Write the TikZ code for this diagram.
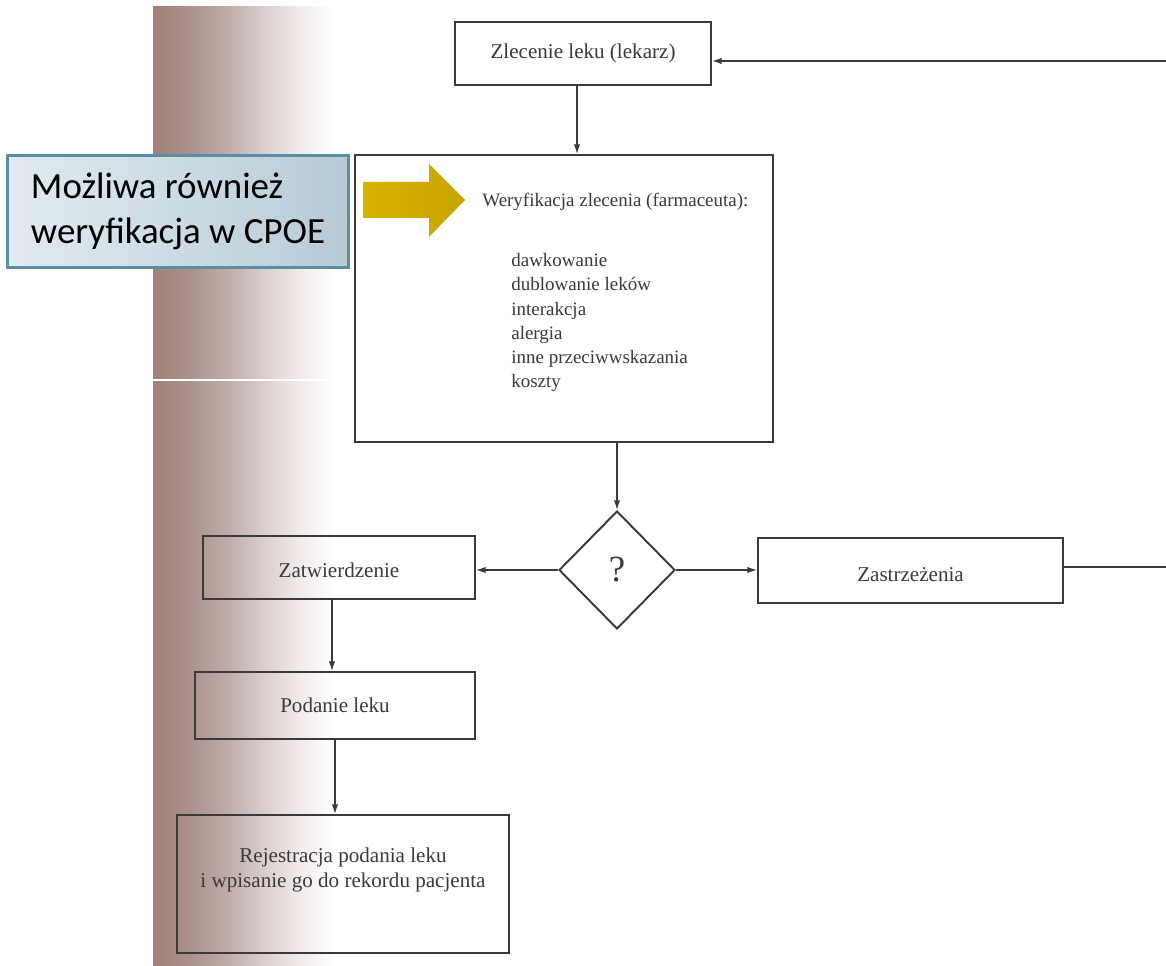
\documentclass[tikz,border=0pt]{standalone}
\usepackage{fontspec}
\setmainfont{Liberation Serif}
\newfontfamily\calloutfont{Carlito}
\usetikzlibrary{arrows.meta,shapes.geometric,calc}

\definecolor{ink}{HTML}{3A3A3A}
\definecolor{mA}{HTML}{9E8179}
\definecolor{mB}{HTML}{AA918B}
\definecolor{mC}{HTML}{BEABA7}
\definecolor{mD}{HTML}{D8CDCB}
\definecolor{mE}{HTML}{F1EAEA}
\definecolor{calloutL}{HTML}{E1EBF0}
\definecolor{calloutR}{HTML}{B7CBD5}
\definecolor{calloutEdge}{HTML}{5B8EA2}
\definecolor{goldL}{HTML}{D6B300}
\definecolor{goldM}{HTML}{EAC700}
\definecolor{goldR}{HTML}{C8A400}

% darkened binding margin of the scanned page
\pgfdeclarehorizontalshading{pagemargin}{100bp}{color(0bp)=(mA); color(25bp)=(mA); color(35bp)=(mB); color(45bp)=(mC); color(55bp)=(mD); color(65bp)=(mE); color(75bp)=(white); color(100bp)=(white)}

\begin{document}
\begin{tikzpicture}[x=0.02cm, y=-0.02cm,
  box/.style={draw=ink, line width=1.1pt, rectangle, inner sep=0pt},
  boxtext/.style={text=ink, font=\fontsize{12}{14}\selectfont},
  listtext/.style={text=ink, font=\fontsize{10.8}{13.8}\selectfont},
  conn/.style={draw=ink, line width=0.8pt, -{Latex[length=5.5pt,width=3.6pt]}},
  plainline/.style={draw=ink, line width=0.8pt},
  decision/.style={draw=ink, line width=1.1pt, diamond, inner sep=0pt},
  note/.style={draw=calloutEdge, line width=1.3pt, left color=calloutL, right color=calloutR,
    inner sep=0pt, align=left, font=\calloutfont\fontsize{21}{26}\selectfont, text=black}
]
\useasboundingbox (0,0) rectangle (1166,966);
\fill[white] (0,0) rectangle (1166,966);

% page margin shading and the scan seam
\shade[shading=pagemargin] (153,7) rectangle (335,966);
\draw[white, line width=0.9pt] (153,380) -- (355,380);

% process boxes
\node[box, minimum width=5.12cm, minimum height=1.26cm] (zlec) at (583,53.5) {};
\node[boxtext] (zlectext) at (zlec.center) {Zlecenie leku (lekarz)};

\node[box, minimum width=8.36cm, minimum height=5.74cm] (wer) at (564,298.5) {};
\node[listtext, anchor=west, inner sep=0pt] (werhead) at (482,202) {Weryfikacja zlecenia (farmaceuta):};
\node[listtext, anchor=north west, align=left, inner sep=0pt] (werlist) at (511,253)
  {dawkowanie\\dublowanie leków\\interakcja\\alergia\\inne przeciwwskazania\\koszty};

\node[decision, minimum width=2.32cm, minimum height=2.36cm] (dec) at (617,570) {};
\node[text=ink, font=\fontsize{21}{24}\selectfont] (dectext) at (dec.center) {?};

\node[box, minimum width=5.44cm, minimum height=1.26cm] (zatw) at (339,567.5) {};
\node[boxtext] (zatwtext) at ([yshift=-0.06cm]zatw.center) {Zatwierdzenie};

\node[box, minimum width=6.10cm, minimum height=1.30cm] (zast) at (910.5,570.5) {};
\node[boxtext] (zasttext) at ([yshift=-0.08cm]zast.center) {Zastrzeżenia};

\node[box, minimum width=5.60cm, minimum height=1.34cm] (pod) at (335,705.5) {};
\node[boxtext] (podtext) at (pod.center) {Podanie leku};

\node[box, minimum width=6.64cm, minimum height=2.76cm] (rej) at (343,884) {};
\node[boxtext, align=center] (rejtext) at ([yshift=0.28cm]rej.center)
  {Rejestracja podania leku\\i wpisanie go do rekordu pacjenta};

% connectors
\coordinate (loopin) at (1166,61);
\coordinate (loopout) at (1166,567);
\draw[conn] (loopin) -- (zlec.east |- loopin);
\draw[conn] (zlec.south -| 577,0) -- (wer.north -| 577,0);
\draw[conn] (wer.south -| dec.north) -- (dec.north);
\draw[conn] (dec.west) -- (zatw.east |- dec.west);
\draw[conn] (dec.east) -- (zast.west |- dec.east);
\draw[plainline] (zast.east |- loopout) -- (loopout);
\draw[conn] (zatw.south -| 332,0) -- (pod.north -| 332,0);
\draw[conn] (pod.south -| 335,0) -- (rej.north -| 335,0);

% callout with its pointer
\node[note, minimum width=6.82cm, minimum height=2.24cm] (callout) at (178,211.5)
  {Możliwa również\\weryfikacja w CPOE};
\shade[left color=goldL, middle color=goldM, right color=goldR]
  (363,182) -- (429,182) -- (429,164) -- (465,200) -- (429,237) -- (429,218) -- (363,218) -- cycle;
\end{tikzpicture}
\end{document}
